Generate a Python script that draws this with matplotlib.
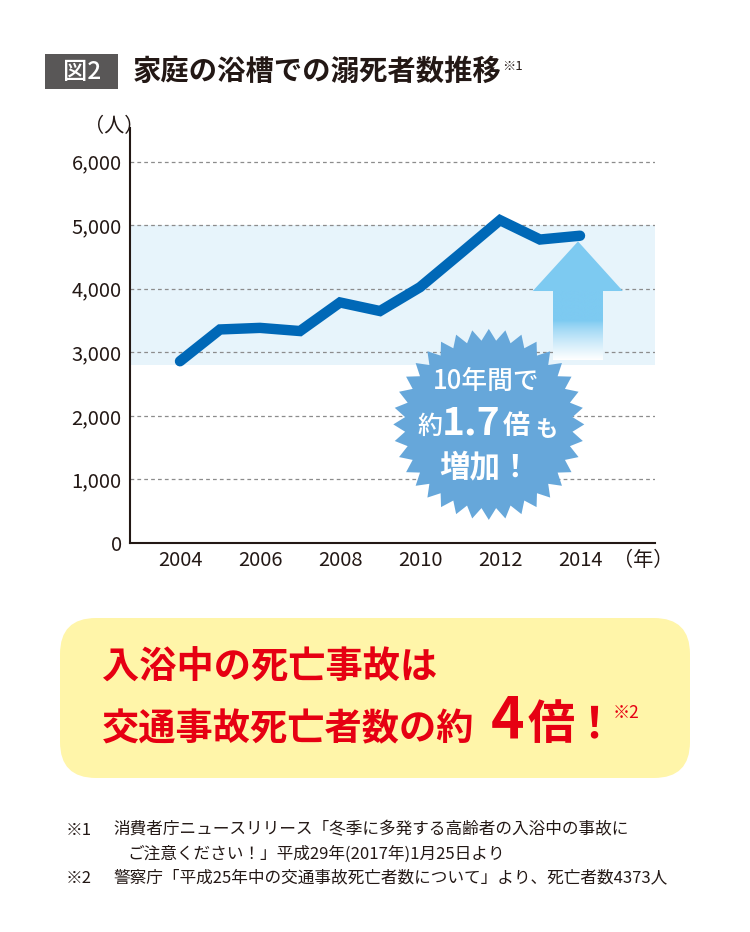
import numpy as np
import matplotlib
matplotlib.use('Agg')
import matplotlib.pyplot as plt
import matplotlib.transforms as mtransforms
from matplotlib.patches import Polygon, Rectangle, FancyBboxPatch

plt.rcParams['font.family'] = ['Noto Sans CJK JP', 'DejaVu Sans']

# data
years = [2004, 2005, 2006, 2007, 2008, 2009, 2010, 2011, 2012, 2013, 2014]
deaths = [2860, 3360, 3385, 3335, 3785, 3650, 4025, 4550, 5080, 4775, 4835]
y_ticks = [0, 1000, 2000, 3000, 4000, 5000, 6000]
x_ticks = [2004, 2006, 2008, 2010, 2012, 2014]

title = '家庭の浴槽での溺死者数推移'
fig_label = '図2'
msg1 = '入浴中の死亡事故は'
msg2 = '交通事故死亡者数の約'
notes = [
    ('※1', '消費者庁ニュースリリース「冬季に多発する高齢者の入浴中の事故に'),
    ('', 'ご注意ください！」平成29年(2017年)1月25日より'),
    ('※2', '警察庁「平成25年中の交通事故死亡者数について」より、死亡者数4373人'),
]

W, H = 750, 932
fig = plt.figure(figsize=(W / 100, H / 100), dpi=100)


def px(x, y):
    return x / W, 1 - y / H


ax = fig.add_axes([130 / W, 1 - 543 / H, 525 / W, 415 / H])

# light blue band
ax.axhspan(2800, 5000, color='#e7f4fb', zorder=0, lw=0)

for v in y_ticks[1:]:
    ax.axhline(v, color='#8c8c8c', lw=0.9, ls=(0, (3, 2.5)), zorder=1)

ax.plot(years, deaths, color='#0068b7', lw=7.5, solid_capstyle='round',
        solid_joinstyle='miter', zorder=3)

# arrow (head + gradient shaft)
arrow_col = '#7dcaf1'
head = Polygon([[2012.82, 3965], [2013.95, 4745], [2015.07, 3965]], closed=True,
               facecolor=arrow_col, edgecolor='none', zorder=2)
ax.add_patch(head)
base = np.array(matplotlib.colors.to_rgb(arrow_col))
t = np.linspace(0, 1, 200)
f = np.clip((t - 0.44) / 0.56, 0, 1) ** 0.8
grad = np.ones((200, 1, 3))
for i in range(200):
    grad[i, 0, :] = base * (1 - f[i]) + np.ones(3) * f[i]
ax.imshow(grad, extent=[2013.33, 2014.56, 2880, 3966], aspect='auto',
          zorder=2, interpolation='bilinear')
ax.set_xlim(2002.75, 2015.875)
ax.set_ylim(0, 6530)

# starburst
n = 36
ang = np.linspace(0, 2 * np.pi, 2 * n, endpoint=False) + np.pi / 2
rad = np.where(np.arange(2 * n) % 2 == 0, 0.955, 0.84)
verts = np.column_stack([rad * np.cos(ang), rad * np.sin(ang)])
trans = fig.dpi_scale_trans + mtransforms.ScaledTranslation(2011.72, 1866, ax.transData)
star = Polygon(verts, closed=True, facecolor='#66a7da', edgecolor='none',
               transform=trans, zorder=4)
ax.add_patch(star)

# axes styling
for s in ['top', 'right']:
    ax.spines[s].set_visible(False)
for s in ['left', 'bottom']:
    ax.spines[s].set_color('#231815')
    ax.spines[s].set_linewidth(1.5)
ax.set_yticks(y_ticks)
ax.set_yticklabels(['{:,}'.format(v) for v in y_ticks])
ax.set_xticks(x_ticks)
ax.set_xticklabels([str(v) for v in x_ticks])
ax.tick_params(length=0, labelsize=14.5, colors='#231815', pad=6)
ax.tick_params(axis='x', pad=5)

fig.text(*px(84, 127), '（人）', fontsize=14.5, color='#231815', va='center', ha='left')
fig.text(*px(613, 560), '（年）', fontsize=14.5, color='#231815', va='center', ha='left')

# starburst text
fig.text(*px(486, 381), '10年間で', fontsize=18.5, color='white', ha='center', va='center', weight='medium')
fig.text(*px(430, 427), '約', fontsize=18, color='white', ha='center', va='center', weight='medium')
fig.text(*px(471, 423), '1.7', fontsize=28, color='white', ha='center', va='center', weight='bold')
fig.text(*px(516, 426), '倍', fontsize=19.5, color='white', ha='center', va='center', weight='bold')
fig.text(*px(546, 429), 'も', fontsize=16, color='white', ha='center', va='center', weight='bold')
fig.text(*px(485, 467), '増加！', fontsize=22, color='white', ha='center', va='center', weight='bold')

# title
fig.patches.append(Rectangle((45 / 100, (H - 89) / 100), 73 / 100, 35 / 100,
                             facecolor='#595757', edgecolor='none',
                             transform=fig.dpi_scale_trans))
fig.text(*px(82, 72), fig_label, fontsize=17.5, color='white', ha='center', va='center', weight='medium')
fig.text(*px(133, 72), title, fontsize=20.4, color='#231815', ha='left', va='center', weight='bold')
fig.text(*px(502, 67), '※1', fontsize=9.5, color='#231815', ha='left', va='center')

# yellow box
fig.patches.append(FancyBboxPatch((60 / 100, (H - 778) / 100), 630 / 100, 160 / 100,
                                  boxstyle='round,pad=0,rounding_size=0.36',
                                  facecolor='#fff5a9', edgecolor='none',
                                  transform=fig.dpi_scale_trans))
red = '#e60012'
fig.text(*px(102, 668), msg1, fontsize=26.8, color=red, ha='left', va='center', weight='bold')
fig.text(*px(102, 730), msg2, fontsize=26.8, color=red, ha='left', va='center', weight='bold')
fig.text(*px(508, 722), '4', fontsize=41, color=red, ha='center', va='center', weight='bold')
fig.text(*px(551, 725), '倍', fontsize=34, color=red, ha='center', va='center', weight='bold')
fig.text(*px(594, 724), '！', fontsize=31, color=red, ha='center', va='center', weight='bold')
fig.text(*px(613, 713), '※2', fontsize=12.5, color=red, ha='left', va='center')

# footnotes
for i, (mark, txt) in enumerate(notes):
    yy = 830 + i * 24
    if mark:
        fig.text(*px(66, yy), mark, fontsize=12, color='#231815', ha='left', va='center')
        fig.text(*px(113, yy), txt, fontsize=12, color='#231815', ha='left', va='center')
    else:
        fig.text(*px(127, yy), txt, fontsize=12, color='#231815', ha='left', va='center')

fig.savefig('out.png', dpi=100)
